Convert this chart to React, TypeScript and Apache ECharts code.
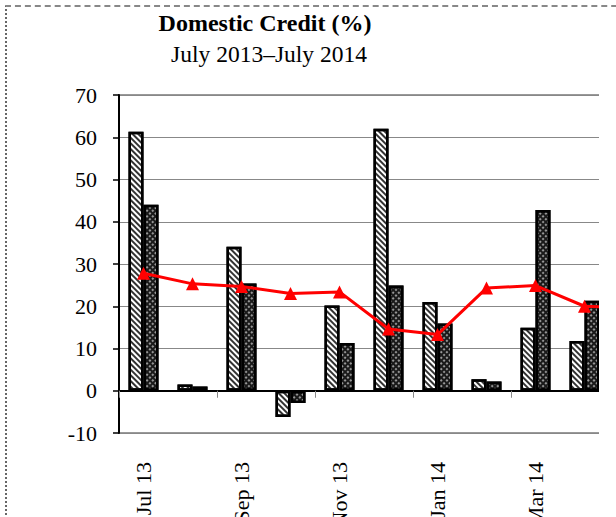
import React, { useEffect, useRef } from 'react';
import * as echarts from 'echarts';

const categories = ['Jul 13', 'Aug 13', 'Sep 13', 'Oct 13', 'Nov 13', 'Dec 13', 'Jan 14', 'Feb 14', 'Mar 14', 'Apr 14', 'May 14'];
const seriesA = [61.3, 1.5, 34.1, -6.2, 20.2, 62.0, 21.0, 2.7, 14.9, 11.8, null];
const seriesB = [44.0, 1.0, 25.4, -2.9, 11.3, 24.9, 15.9, 2.2, 42.8, 21.3, null];
const seriesLine = [27.8, 25.3, 24.7, 23.0, 23.4, 14.6, 13.3, 24.3, 24.9, 20.0, 19.6];
const titleText = 'Domestic Credit (%)';
const subtitleText = 'July 2013\u2013July 2014';

const FONT = "'Liberation Serif', 'Times New Roman', serif";

export default function App() {
  const ref = useRef<HTMLDivElement>(null);
  useEffect(() => {
    const chart = echarts.init(ref.current!, null, { renderer: 'svg' });
    chart.setOption({
      animation: false,
      textStyle: { fontFamily: FONT },
      graphic: [
        {
          type: 'text', x: 265, y: 23,
          style: { text: titleText, font: `bold 24px ${FONT}`, fill: '#000', textAlign: 'center', textVerticalAlign: 'middle' },
        },
        {
          type: 'text', x: 269, y: 54,
          style: { text: subtitleText, font: `23.5px ${FONT}`, fill: '#000', textAlign: 'center', textVerticalAlign: 'middle' },
        },
      ],
      grid: { left: 119, top: 95, width: 539, height: 338, show: true, borderColor: '#999', borderWidth: 2 },
      xAxis: [
        {
          type: 'category', data: categories, position: 'bottom',
          axisLine: { show: false, onZero: false },
          axisTick: { show: false },
          axisLabel: { rotate: 90, interval: 1, fontSize: 22, color: '#000', margin: 29, fontFamily: FONT },
        },
        {
          type: 'category', data: categories, position: 'bottom',
          axisLine: { show: true, onZero: true, lineStyle: { color: '#000', width: 2 } },
          axisTick: { show: true, interval: 1, length: 7, lineStyle: { color: '#888', width: 1 } },
          axisLabel: { show: false },
          splitLine: { show: false },
        },
      ],
      yAxis: {
        type: 'value', min: -10, max: 70, interval: 10,
        axisLine: { show: true, lineStyle: { color: '#000', width: 2 } },
        axisTick: { show: true, length: 6, lineStyle: { color: '#000', width: 1.5 } },
        axisLabel: { fontSize: 22, color: '#000', margin: 22, fontFamily: FONT },
        splitLine: { lineStyle: { color: '#888', width: 1 } },
      },
      series: [
        {
          name: 'Series A', type: 'bar', data: seriesA, barWidth: 15, barGap: '0%',
          itemStyle: {
            color: '#fff', borderColor: '#000', borderWidth: 2.5,
            decal: { symbol: 'rect', symbolSize: 1, color: '#333', dashArrayX: [1, 0], dashArrayY: [2, 2], rotation: Math.PI / 4 },
          },
        },
        {
          name: 'Series B', type: 'bar', data: seriesB, barWidth: 15, barGap: '0%',
          itemStyle: {
            color: '#1a1a1a', borderColor: '#000', borderWidth: 2.5,
            decal: { symbol: 'circle', symbolSize: 0.8, color: '#ddd', dashArrayX: [2, 2], dashArrayY: [2, 2], rotation: Math.PI / 4 },
          },
        },
        {
          name: 'Line', type: 'line', data: seriesLine, symbol: 'triangle', symbolSize: 13,
          lineStyle: { color: '#f00', width: 3 }, itemStyle: { color: '#f00' }, z: 10,
        },
      ],
    });
    return () => chart.dispose();
  }, []);
  return (
    <div style={{ position: 'absolute', left: 0, top: 0, width: 616, height: 517, overflow: 'hidden', background: '#fff' }}>
      <div style={{ position: 'absolute', left: 5, top: 5, width: 640, height: 540, borderTop: '2px dashed #888', borderLeft: '2px dotted #666' }} />
      <div style={{ position: 'absolute', left: 0, top: 0, width: 599, height: 517, overflow: 'hidden' }}>
        <div ref={ref} style={{ width: 700, height: 560 }} />
      </div>
    </div>
  );
}
